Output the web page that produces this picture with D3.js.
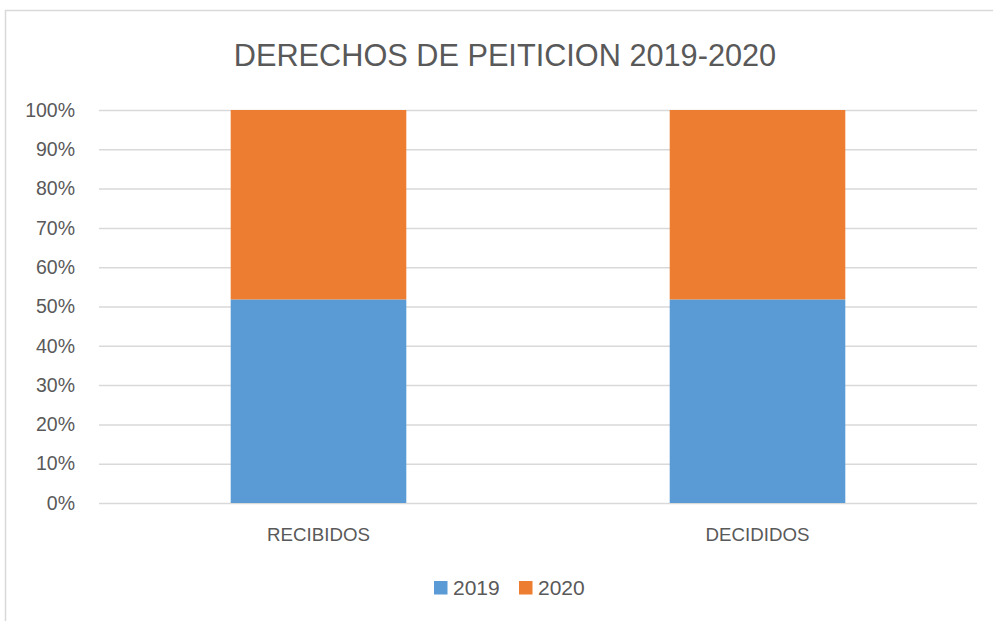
<!DOCTYPE html>
<html>
<head>
<meta charset="utf-8">
<script src="https://cdn.jsdelivr.net/npm/d3@7"></script>
<style>
  html, body { margin: 0; padding: 0; background: #ffffff; }
  svg { display: block; font-family: "Liberation Sans", Arial, sans-serif; }
</style>
</head>
<body>
<svg id="chart" width="993" height="621"></svg>
<script>
const categories = ["RECIBIDOS", "DECIDIDOS"];
const seriesNames = ["2019", "2020"];
const values2019 = [51.8, 51.8];
const values2020 = [48.2, 48.2];
const tickValues = [0, 0.1, 0.2, 0.3, 0.4, 0.5, 0.6, 0.7, 0.8, 0.9, 1];
const colors = ["#5B9BD5", "#ED7D31"];
const title = "DERECHOS DE PEITICION 2019-2020";

const svg = d3.select("#chart");
const W = 993, H = 621;
const m = { left: 99, right: 977, top: 110, bottom: 503 };

// chart frame
svg.append("path")
  .attr("d", `M5.5,${H + 2} L5.5,10.5 L${W + 2},10.5`)
  .attr("fill", "none").attr("stroke", "#d9d9d9").attr("stroke-width", 1.5);

const rows = categories.map((c, i) => ({ cat: c, "2019": values2019[i], "2020": values2020[i] }));
const stacked = d3.stack().keys(seriesNames).offset(d3.stackOffsetExpand)(rows);

const x = d3.scaleBand().domain(categories).range([m.left, m.right]).paddingInner(0.6).paddingOuter(0.3);
const y = d3.scaleLinear().domain([0, 1]).range([m.bottom, m.top]);

// gridlines
const yAxis = d3.axisLeft(y).tickValues(tickValues).tickFormat(d3.format(".0%"))
  .tickSize(-(m.right - m.left)).tickPadding(24);
const gy = svg.append("g").attr("transform", `translate(${m.left},0)`).call(yAxis);
gy.select(".domain").remove();
gy.selectAll(".tick line").attr("stroke", "#d9d9d9").attr("stroke-width", 1.5);
gy.selectAll(".tick text").attr("fill", "#595959").attr("font-size", 19.5)
  .attr("font-family", "'Liberation Sans', Arial, sans-serif");

// bars
svg.append("g").selectAll("g").data(stacked).join("g")
  .attr("fill", (d, i) => colors[i])
  .selectAll("rect").data(d => d).join("rect")
  .attr("x", d => x(d.data.cat))
  .attr("width", x.bandwidth())
  .attr("y", d => y(d[1]))
  .attr("height", d => y(d[0]) - y(d[1]));

// x axis labels
const xAxis = d3.axisBottom(x).tickSize(0).tickPadding(25);
const gx = svg.append("g").attr("transform", `translate(0,${m.bottom})`).call(xAxis);
gx.select(".domain").remove();
gx.selectAll(".tick text").attr("fill", "#595959").attr("font-size", 18.7)
  .attr("font-family", "'Liberation Sans', Arial, sans-serif");

// title
svg.append("text").attr("x", 505).attr("y", 66).attr("text-anchor", "middle")
  .attr("fill", "#595959").attr("font-size", 30.7).text(title);

// legend
const legendX = [434, 519];
const lg = svg.append("g").selectAll("g").data(seriesNames).join("g")
  .attr("transform", (d, i) => `translate(${legendX[i]},581)`);
lg.append("rect").attr("width", 13.5).attr("height", 13.5).attr("fill", (d, i) => colors[i]);
lg.append("text").attr("x", 19).attr("y", 14).attr("fill", "#595959")
  .attr("font-size", 21).text(d => d);
</script>
</body>
</html>
